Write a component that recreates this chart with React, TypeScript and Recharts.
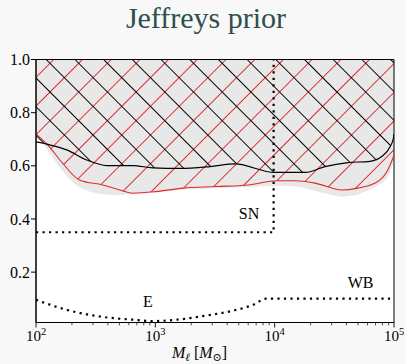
import {
  ComposedChart,
  Area,
  Line,
  XAxis,
  YAxis,
  CartesianGrid,
  ReferenceArea,
  ReferenceDot,
} from 'recharts';

const SERIF = '"Liberation Serif", "DejaVu Serif", serif';
const RED = '#e02b2b';
const Y_MIN = 0.0105;
const Y_TOP = 1.0;

// axis ticks
const X_MAJOR = [100, 1000, 10000, 100000];
const X_MINOR = [
  200, 300, 400, 500, 600, 700, 800, 900,
  2000, 3000, 4000, 5000, 6000, 7000, 8000, 9000,
  20000, 30000, 40000, 50000, 60000, 70000, 80000, 90000,
];
const Y_TICKS = [0.2, 0.4, 0.6, 0.8, 1.0];

// black hatched region (lower edge)
const BLACK_X = [100, 130, 181, 266, 391, 650, 955, 1610, 2870, 4650, 10000, 18000, 26400, 41200, 63000, 79000, 92700, 99100, 100000];
const BLACK_Y = [0.69, 0.679, 0.66, 0.622, 0.601, 0.601, 0.592, 0.59, 0.597, 0.607, 0.575, 0.575, 0.597, 0.612, 0.617, 0.635, 0.672, 0.705, 0.72];

// red hatched region (lower edge)
const RED_X = [100, 129, 167, 231, 362, 505, 646, 1013, 1694, 3220, 5980, 10500, 14800, 21800, 36500, 49900, 69300, 89000, 100000];
const RED_Y = [0.72, 0.672, 0.61, 0.547, 0.528, 0.509, 0.497, 0.503, 0.516, 0.522, 0.528, 0.544, 0.544, 0.535, 0.509, 0.516, 0.535, 0.585, 0.64];

// grey band (lower edge)
const GRAY_X = [100, 129, 167, 231, 300, 362, 430, 646, 1013, 1694, 3220, 5980, 10500, 16000, 21800, 30000, 36500, 46000, 55000, 69300, 89000, 100000];
const GRAY_Y = [0.72, 0.65, 0.58, 0.52, 0.5, 0.494, 0.49, 0.493, 0.5, 0.51, 0.515, 0.52, 0.525, 0.52, 0.505, 0.49, 0.484, 0.488, 0.5, 0.52, 0.56, 0.62];

// dotted bounds
const SN_X = [100, 9800, 9800];
const SN_Y = [0.35, 0.35, 1.0];
const E_X = [100, 181, 344, 650, 955, 1514, 2700, 4470, 6600, 8500, 100000];
const E_Y = [0.096, 0.058, 0.033, 0.021, 0.016, 0.021, 0.037, 0.055, 0.077, 0.1, 0.1];

const pts = (xs: number[], ys: number[]) => xs.map((m, i) => ({ m, v: ys[i] }));
const band = (xs: number[], ys: number[]) => xs.map((m, i) => ({ m, v: [ys[i], Y_TOP] }));

const H = 28.7 / Math.SQRT2;

function LogTick(props: any) {
  const { x, y, payload } = props;
  const v = payload.value;
  const major = X_MAJOR.includes(v);
  const exp = Math.round(Math.log10(v));
  return (
    <g>
      <line x1={x} x2={x} y1={y} y2={y + (major ? 5 : 2.8)} stroke="#000" strokeWidth={major ? 0.9 : 0.7} />
      {major && (
        <text x={x} y={y + 18.5} textAnchor="middle" fontFamily={SERIF} fontSize={15} fill="#000">
          10
          <tspan dy={-6} fontSize={10.5}>{exp}</tspan>
        </text>
      )}
    </g>
  );
}

const dotted = { stroke: '#000', strokeWidth: 2.2, strokeDasharray: '2.2 4.3' };
const labelStyle = { fill: '#000', fontSize: 16, fontFamily: SERIF };

export default function App() {
  return (
    <div style={{ position: 'absolute', left: 0, top: 0, width: 405, height: 364, background: '#f8f8f8' }}>
      <ComposedChart width={405} height={364} margin={{ top: 59.5, right: 11, bottom: 0, left: 0 }}>
        <defs>
          <pattern id="hatchBlack" patternUnits="userSpaceOnUse" width={H} height={H} patternTransform="translate(1.05,0) rotate(45)">
            <line x1={-1} y1={H / 2} x2={H + 1} y2={H / 2} stroke="#000" strokeWidth={1} />
          </pattern>
          <pattern id="hatchRed" patternUnits="userSpaceOnUse" width={H} height={H} patternTransform="translate(12.85,0) rotate(45)">
            <line x1={H / 2} y1={-1} x2={H / 2} y2={H + 1} stroke={RED} strokeWidth={1} />
          </pattern>
        </defs>
        <CartesianGrid horizontal={false} vertical={false} fill="#ffffff" fillOpacity={1} />
        <XAxis
          dataKey="m"
          type="number"
          scale="log"
          domain={[100, 100000]}
          ticks={[...X_MAJOR, ...X_MINOR].sort((a, b) => a - b)}
          interval={0}
          allowDataOverflow
          height={41.5}
          tickSize={0}
          tickMargin={0}
          tickLine={false}
          tick={<LogTick />}
          axisLine={{ stroke: '#000', strokeWidth: 1 }}
        />
        <YAxis
          type="number"
          domain={[Y_MIN, Y_TOP]}
          ticks={Y_TICKS}
          allowDataOverflow
          width={36}
          tickSize={5}
          tickMargin={1}
          tickFormatter={(v: number) => v.toFixed(1)}
          tick={{ fill: '#000', fontSize: 16, fontFamily: SERIF }}
          tickLine={{ stroke: '#000' }}
          axisLine={{ stroke: '#000' }}
        />
        <Area data={band(GRAY_X, GRAY_Y)} dataKey="v" type="monotone" stroke="none" fill="#e8e8e8" fillOpacity={1} isAnimationActive={false} />
        <Area data={band(RED_X, RED_Y)} dataKey="v" type="monotone" stroke="none" fill="url(#hatchRed)" fillOpacity={1} isAnimationActive={false} />
        <Area data={band(BLACK_X, BLACK_Y)} dataKey="v" type="monotone" stroke="none" fill="url(#hatchBlack)" fillOpacity={1} isAnimationActive={false} />
        <Line data={pts(RED_X, RED_Y)} dataKey="v" type="monotone" stroke={RED} strokeWidth={1.1} dot={false} activeDot={false} isAnimationActive={false} />
        <Line data={pts(BLACK_X, BLACK_Y)} dataKey="v" type="monotone" stroke="#000" strokeWidth={1.2} dot={false} activeDot={false} isAnimationActive={false} />
        <Line data={pts(SN_X, SN_Y)} dataKey="v" type="linear" {...dotted} dot={false} activeDot={false} isAnimationActive={false} />
        <Line data={pts(E_X, E_Y)} dataKey="v" type="monotone" {...dotted} dot={false} activeDot={false} isAnimationActive={false} />
        <ReferenceArea x1={100} x2={100000} y1={Y_MIN} y2={Y_TOP} fill="none" stroke="#000" strokeWidth={1} />
        <ReferenceDot x={867} y={0.09} r={0} fill="none" stroke="none" label={{ value: 'E', position: 'center', ...labelStyle }} />
        <ReferenceDot x={6100} y={0.42} r={0} fill="none" stroke="none" label={{ value: 'SN', position: 'center', ...labelStyle }} />
        <ReferenceDot x={52500} y={0.16} r={0} fill="none" stroke="none" label={{ value: 'WB', position: 'center', ...labelStyle }} />
      </ComposedChart>
      <svg width={405} height={364} style={{ position: 'absolute', left: 0, top: 0, pointerEvents: 'none' }}>
        <text x={206} y={28} textAnchor="middle" fontFamily={SERIF} fontSize={30} fill="#2f4f4f">
          Jeffreys prior
        </text>
        <text x={172} y={358} fontFamily={SERIF} fontSize={16} fill="#000">
          <tspan fontStyle="italic">M</tspan>
          <tspan dy={3} fontSize={11} fontStyle="italic">ℓ</tspan>
          <tspan dy={-3}> [</tspan>
          <tspan fontStyle="italic">M</tspan>
          <tspan dy={3} fontSize={11}>⊙</tspan>
          <tspan dy={-3}>]</tspan>
        </text>
      </svg>
    </div>
  );
}
